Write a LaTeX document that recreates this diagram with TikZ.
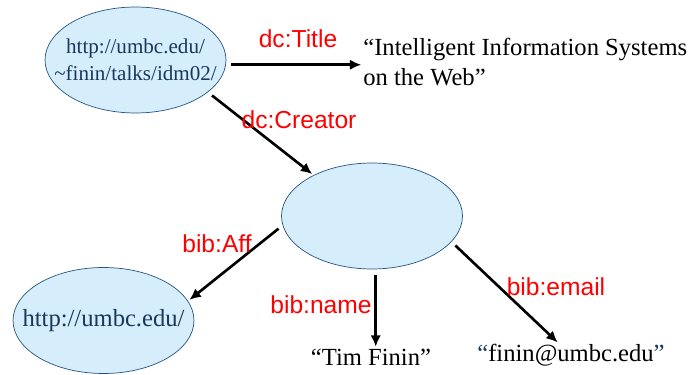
\documentclass[tikz,border=0pt]{standalone}
\usepackage{fontspec}
\setmainfont{Liberation Serif}
\setsansfont{Liberation Sans}
\usepackage{xcolor}
\usepackage{tikz}
\usetikzlibrary{positioning,calc,shapes,arrows.meta}
\definecolor{resfill}{RGB}{214,238,252}
\definecolor{resline}{RGB}{38,84,130}
\definecolor{restext}{RGB}{23,55,94}
\tikzstyle{res}= [ellipse, draw=resline, fill=resfill, minimum width=3.62cm, minimum height=2.12cm, inner xsep=-12pt, inner ysep=0pt, text=restext, align=center]
\tikzstyle{lit}= [inner sep=0pt, font=\fontsize{14}{17}\selectfont]
\tikzstyle{prop}= [text=red, inner sep=0pt, font=\sffamily\fontsize{14}{17}\selectfont]
\tikzstyle{arc}= [-{Latex[length=6.5pt,width=6pt]}, line width=1.5pt, shorten <=3pt, shorten >=1pt]

\begin{document}
\begin{tikzpicture}[x=0.02cm, y=-0.02cm]
				\useasboundingbox (0,0) rectangle (696,375);
				\node[res, font=\fontsize{12}{15.4}\selectfont] (doc) at (135.5,60) {http://umbc.edu/\\\textasciitilde finin/talks/idm02/};
				\node[res] (author) at (372,216) {};
				\node[res, font=\fontsize{14}{17}\selectfont] (univ) at (103.5,320.5) {http://umbc.edu/};
				\node[lit, anchor=west, align=left] (title) at (363,62) {“Intelligent Information Systems\\on the Web”};
				\node[lit] (name) at (371,357) {“Tim Finin”};
				\node[lit] (mail) at (571,355) {\textcolor{restext}{“}finin@umbc.edu\textcolor{restext}{”}};
				\draw[arc] (doc.-3) -- (doc.-3 -| title.west);
				\draw[arc] (doc.-24) -- (author.145);
				\draw[arc] (author.-174) -- (univ.13);
				\draw[arc] (author.-86) -- (author.-86 |- name.north);
				\draw[arc] (author.-18) -- (mail);
				\node[prop] (ltitle) at (298,39) {dc:Title};
				\node[prop] (lcreator) at (299,120) {dc:Creator};
				\node[prop] (laff) at (217,244) {bib:Aff};
				\node[prop] (lname) at (321,305) {bib:name};
				\node[prop] (lmail) at (556,287) {bib:email};
			\end{tikzpicture}
\end{document}
